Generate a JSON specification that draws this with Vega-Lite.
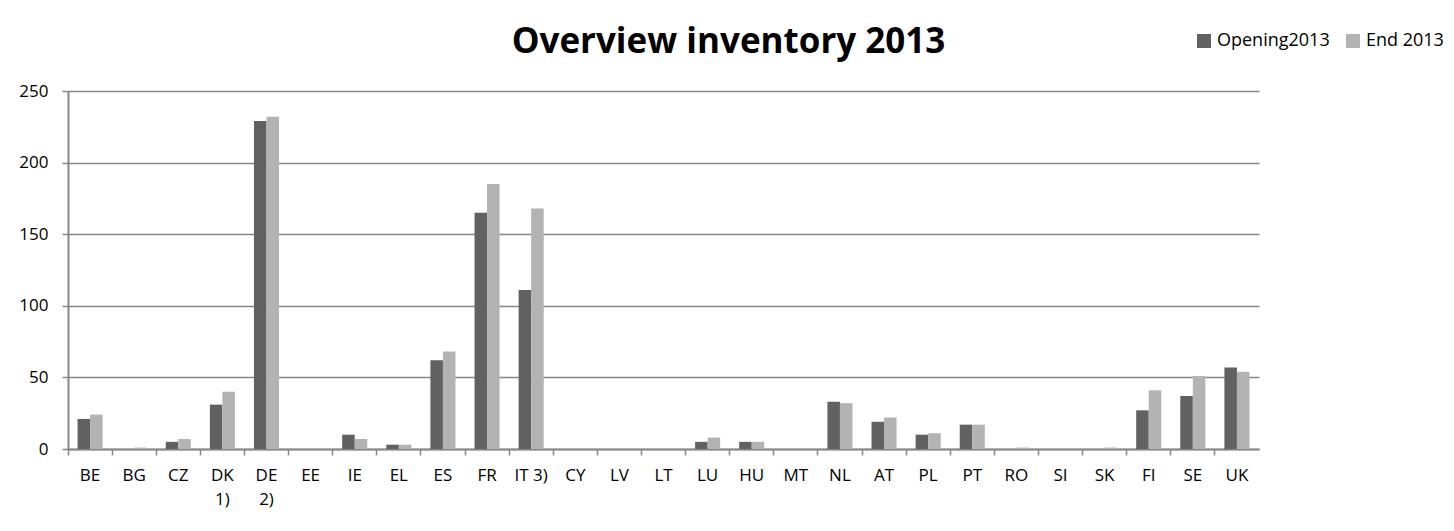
{
  "$schema": "https://vega.github.io/schema/vega-lite/v6.json",
  "autosize": {"type": "none"},
  "width": 1191,
  "height": 358,
  "padding": {"left": 68, "top": 91, "right": 195, "bottom": 82},
  "background": "white",
  "title": {
    "text": "Overview inventory 2013",
    "font": "Open Sans",
    "fontSize": 35,
    "fontWeight": "bold",
    "color": "black",
    "anchor": "middle",
    "frame": "group",
    "baseline": "alphabetic",
    "offset": 35,
    "dy": 91,
    "dx": 65
  },
  "config": {
    "view": {"stroke": null},
    "font": "Open Sans",
    "axis": {"labelFont": "Open Sans", "labelColor": "black", "domainColor": "#868686", "tickColor": "#868686", "gridColor": "#868686"}
  },
  "data": {
    "values": [
      {"country": "BE", "series": "Opening2013", "value": 21},
      {"country": "BE", "series": "End 2013", "value": 24},
      {"country": "BG", "series": "Opening2013", "value": 0},
      {"country": "BG", "series": "End 2013", "value": 1},
      {"country": "CZ", "series": "Opening2013", "value": 5},
      {"country": "CZ", "series": "End 2013", "value": 7},
      {"country": "DK|1)", "series": "Opening2013", "value": 31},
      {"country": "DK|1)", "series": "End 2013", "value": 40},
      {"country": "DE|2)", "series": "Opening2013", "value": 229},
      {"country": "DE|2)", "series": "End 2013", "value": 232},
      {"country": "EE", "series": "Opening2013", "value": 0},
      {"country": "EE", "series": "End 2013", "value": 0},
      {"country": "IE", "series": "Opening2013", "value": 10},
      {"country": "IE", "series": "End 2013", "value": 7},
      {"country": "EL", "series": "Opening2013", "value": 3},
      {"country": "EL", "series": "End 2013", "value": 3},
      {"country": "ES", "series": "Opening2013", "value": 62},
      {"country": "ES", "series": "End 2013", "value": 68},
      {"country": "FR", "series": "Opening2013", "value": 165},
      {"country": "FR", "series": "End 2013", "value": 185},
      {"country": "IT 3)", "series": "Opening2013", "value": 111},
      {"country": "IT 3)", "series": "End 2013", "value": 168},
      {"country": "CY", "series": "Opening2013", "value": 0},
      {"country": "CY", "series": "End 2013", "value": 0},
      {"country": "LV", "series": "Opening2013", "value": 0},
      {"country": "LV", "series": "End 2013", "value": 0},
      {"country": "LT", "series": "Opening2013", "value": 0},
      {"country": "LT", "series": "End 2013", "value": 0},
      {"country": "LU", "series": "Opening2013", "value": 5},
      {"country": "LU", "series": "End 2013", "value": 8},
      {"country": "HU", "series": "Opening2013", "value": 5},
      {"country": "HU", "series": "End 2013", "value": 5},
      {"country": "MT", "series": "Opening2013", "value": 0},
      {"country": "MT", "series": "End 2013", "value": 0},
      {"country": "NL", "series": "Opening2013", "value": 33},
      {"country": "NL", "series": "End 2013", "value": 32},
      {"country": "AT", "series": "Opening2013", "value": 19},
      {"country": "AT", "series": "End 2013", "value": 22},
      {"country": "PL", "series": "Opening2013", "value": 10},
      {"country": "PL", "series": "End 2013", "value": 11},
      {"country": "PT", "series": "Opening2013", "value": 17},
      {"country": "PT", "series": "End 2013", "value": 17},
      {"country": "RO", "series": "Opening2013", "value": 0},
      {"country": "RO", "series": "End 2013", "value": 1},
      {"country": "SI", "series": "Opening2013", "value": 0},
      {"country": "SI", "series": "End 2013", "value": 0},
      {"country": "SK", "series": "Opening2013", "value": 0},
      {"country": "SK", "series": "End 2013", "value": 1},
      {"country": "FI", "series": "Opening2013", "value": 27},
      {"country": "FI", "series": "End 2013", "value": 41},
      {"country": "SE", "series": "Opening2013", "value": 37},
      {"country": "SE", "series": "End 2013", "value": 51},
      {"country": "UK", "series": "Opening2013", "value": 57},
      {"country": "UK", "series": "End 2013", "value": 54}
    ]
  },
  "resolve": {"axis": {"x": "independent"}},
  "layer": [
    {
      "mark": {"type": "bar"},
      "encoding": {
        "x": {
          "field": "country",
          "type": "nominal",
          "sort": null,
          "scale": {"paddingInner": 0, "paddingOuter": 0},
          "axis": {
            "title": null,
            "orient": "bottom",
            "labelAngle": 0,
            "labelFontSize": 17,
            "labelPadding": 18,
            "labelLineHeight": 24,
            "labelExpr": "split(datum.label, '|')",
            "ticks": false,
            "domain": true,
            "domainWidth": 2
          }
        },
        "xOffset": {
          "field": "series",
          "type": "nominal",
          "sort": ["Opening2013", "End 2013"],
          "scale": {"paddingInner": 0, "paddingOuter": 0.76}
        },
        "y": {
          "field": "value",
          "type": "quantitative",
          "scale": {"domain": [0, 250], "nice": false},
          "axis": {
            "title": null,
            "values": [0, 50, 100, 150, 200, 250],
            "labelFontSize": 17,
            "labelPadding": 14,
            "tickSize": 6,
            "tickWidth": 1.5,
            "domainWidth": 2,
            "grid": true,
            "gridWidth": 1.5
          }
        },
        "color": {
          "field": "series",
          "type": "nominal",
          "scale": {"domain": ["Opening2013", "End 2013"], "range": ["#616161", "#b3b3b3"]},
          "legend": {
            "title": null,
            "orient": "none",
            "legendX": 1127,
            "legendY": -59,
            "direction": "horizontal",
            "symbolType": "square",
            "symbolSize": 196,
            "symbolStrokeWidth": 0,
            "labelFontSize": 18,
            "labelFont": "Open Sans",
            "labelColor": "black",
            "labelOffset": 4,
            "labelLimit": 300,
            "columnPadding": 14
          }
        }
      }
    },
    {
      "mark": {"type": "bar", "opacity": 0},
      "encoding": {
        "x": {
          "field": "country",
          "type": "nominal",
          "sort": null,
          "axis": {
            "title": null,
            "orient": "bottom",
            "labels": false,
            "domain": false,
            "ticks": true,
            "tickSize": 6,
            "tickWidth": 1.5,
            "bandPosition": 0
          }
        },
        "y": {"datum": 0, "type": "quantitative"}
      }
    }
  ]
}
